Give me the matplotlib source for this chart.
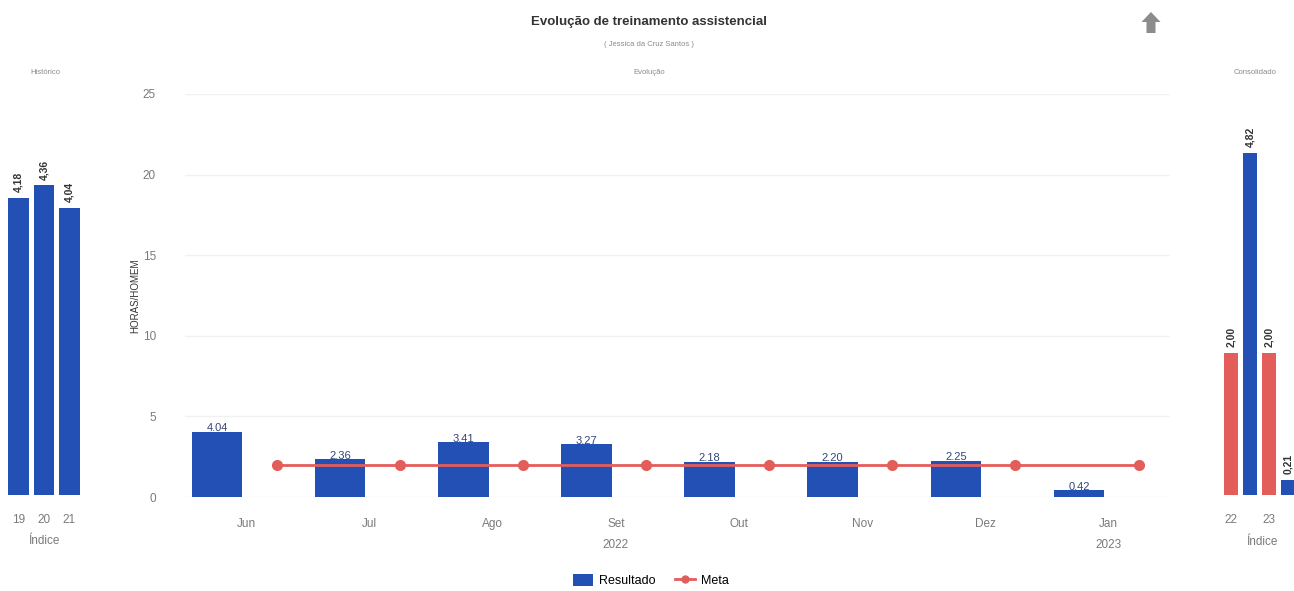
import matplotlib
matplotlib.use("Agg")
import matplotlib.pyplot as plt
from matplotlib.patches import Polygon, Patch
from matplotlib.lines import Line2D
import matplotlib.transforms as mtransforms

plt.rcParams['font.family'] = ['Liberation Sans', 'DejaVu Sans']

# =========================
# DATA
# =========================
hist_idx = [19, 20, 21]
hist_vals = [4.18, 4.36, 4.04]

months = ["Jun", "Jul", "Ago", "Set", "Out", "Nov", "Dez", "Jan"]
resultado = [4.04, 2.36, 3.41, 3.27, 2.18, 2.20, 2.25, 0.42]
meta = [2, 2, 2, 2, 2, 2, 2, 2]
years = {3: "2022", 7: "2023"}   # month index -> year label

cons_idx = [22, 23]
cons_meta = [2.00, 2.00]
cons_res = [4.82, 0.21]

BLUE = "#2350b4"
RED = "#e35d5b"
GRAY = "#7a7a7a"

W, H = 1294, 591
fig = plt.figure(figsize=(W / 100, H / 100), dpi=100)


def px_axes(x0, y0, x1, y1):
    return fig.add_axes([x0 / W, 1 - y1 / H, (x1 - x0) / W, (y1 - y0) / H])


def clean(ax):
    for s in ax.spines.values():
        s.set_visible(False)
    ax.tick_params(length=0, colors=GRAY, labelsize=8.5)


# =========================
# TITLES
# =========================
fig.text(649 / W, 1 - 22 / H, "Evolução de treinamento assistencial",
         ha="center", va="center", fontsize=9.5, fontweight="bold", color="#333333")
fig.text(649 / W, 1 - 45 / H, "( Jessica da Cruz Santos )",
         ha="center", va="center", fontsize=5.5, color="#8a8a8a")

# up arrow icon (top right)
arrow_pts = [(1151, 12), (1160.5, 22), (1155.5, 22), (1155.5, 33), (1146.5, 33),
             (1146.5, 22), (1141.5, 22)]
fig.patches.append(Polygon([(x / W, 1 - y / H) for x, y in arrow_pts], closed=True,
                           facecolor="#8c8c8c", edgecolor="none",
                           transform=fig.transFigure, figure=fig))

# =========================
# HISTORICO
# =========================
axL = px_axes(4.5, 105, 82.5, 495)
axL.bar(hist_idx, hist_vals, width=0.82, color=BLUE)
for x, v in zip(hist_idx, hist_vals):
    axL.text(x, v + 0.08, f"{v:.2f}".replace(".", ","), rotation=90, ha="center",
             va="bottom", fontsize=7.5, fontweight="bold", color="#333333")
axL.set_xlim(18.45, 21.51)
axL.set_ylim(0, 5.49)
axL.set_xticks(hist_idx)
axL.set_yticks([])
axL.tick_params(axis="x", pad=14)
axL.set_xlabel("Índice", color=GRAY, fontsize=8.5, labelpad=6)
clean(axL)
fig.text(45 / W, 1 - 73 / H, "Histórico", ha="center", va="center",
         fontsize=5.5, color="#8a8a8a")

# =========================
# EVOLUCAO
# =========================
ax = px_axes(185, 94, 1170, 497)
pos = list(range(len(months)))
ax.bar([p - 0.24 for p in pos], resultado, width=0.41, color=BLUE, zorder=2)
ax.plot([p + 0.245 for p in pos], meta, color=RED, lw=2, marker="o",
        markersize=7, zorder=3)
for p, v in zip(pos, resultado):
    ax.text(p - 0.24, v - 0.1, f"{v:.2f}", ha="center", va="bottom",
            fontsize=8, color="#33457a", zorder=4)
ax.set_xlim(-0.5, 7.5)
ax.set_ylim(0, 25)
ax.set_xticks(pos)
ax.set_xticklabels(months)
ax.set_yticks([0, 5, 10, 15, 20, 25])
ax.tick_params(axis="x", pad=15)
ax.tick_params(axis="y", pad=21)
ax.grid(axis="y", color="#f1f1f1", lw=1)
ax.set_axisbelow(True)
clean(ax)
ax.set_ylabel("HORAS/HOMEM", fontsize=7, color="#333333")
ax.yaxis.set_label_coords((140 - 185) / 985, 0.5)
trans = mtransforms.blended_transform_factory(ax.transData, ax.transAxes)
for p, y in years.items():
    ax.text(p, -0.12, y, transform=trans, ha="center", va="center",
            fontsize=8.5, color=GRAY)
fig.text(649 / W, 1 - 73 / H, "Evolução", ha="center", va="center",
         fontsize=5.5, color="#8a8a8a")

# =========================
# CONSOLIDADO
# =========================
axR = px_axes(1220, 105, 1294, 495)
axR.bar(cons_idx, cons_meta, width=0.39, color=RED)
axR.bar([c + 0.5 for c in cons_idx], cons_res, width=0.39, color=BLUE)
for x, v in zip(cons_idx, cons_meta):
    axR.text(x, v + 0.08, f"{v:.2f}".replace(".", ","), rotation=90, ha="center",
             va="bottom", fontsize=7.5, fontweight="bold", color="#333333")
for x, v in zip(cons_idx, cons_res):
    axR.text(x + 0.5, v + 0.08, f"{v:.2f}".replace(".", ","), rotation=90,
             ha="center", va="bottom", fontsize=7.5, fontweight="bold", color="#333333")
axR.set_xlim(21.71, 23.66)
axR.set_ylim(0, 5.49)
axR.set_xticks(cons_idx)
axR.set_yticks([])
axR.tick_params(axis="x", pad=14)
axR.set_xlabel("Índice", color=GRAY, fontsize=8.5)
axR.xaxis.set_label_coords((1262 - 1220) / 74, -0.105)
clean(axR)
fig.text(1255 / W, 1 - 73 / H, "Consolidado", ha="center", va="center",
         fontsize=5.5, color="#8a8a8a")

# =========================
# LEGEND
# =========================
handles = [Patch(facecolor=BLUE, edgecolor="none", label="Resultado"),
           Line2D([0], [0], color=RED, lw=2, marker="o", markersize=5, label="Meta")]
fig.legend(handles=handles, loc="lower center", bbox_to_anchor=(0.503, -0.012),
           ncol=2, frameon=False, fontsize=9, handlelength=1.6, handleheight=1.1,
           columnspacing=1.5, handletextpad=0.5)

fig.savefig("out.png", dpi=100)
